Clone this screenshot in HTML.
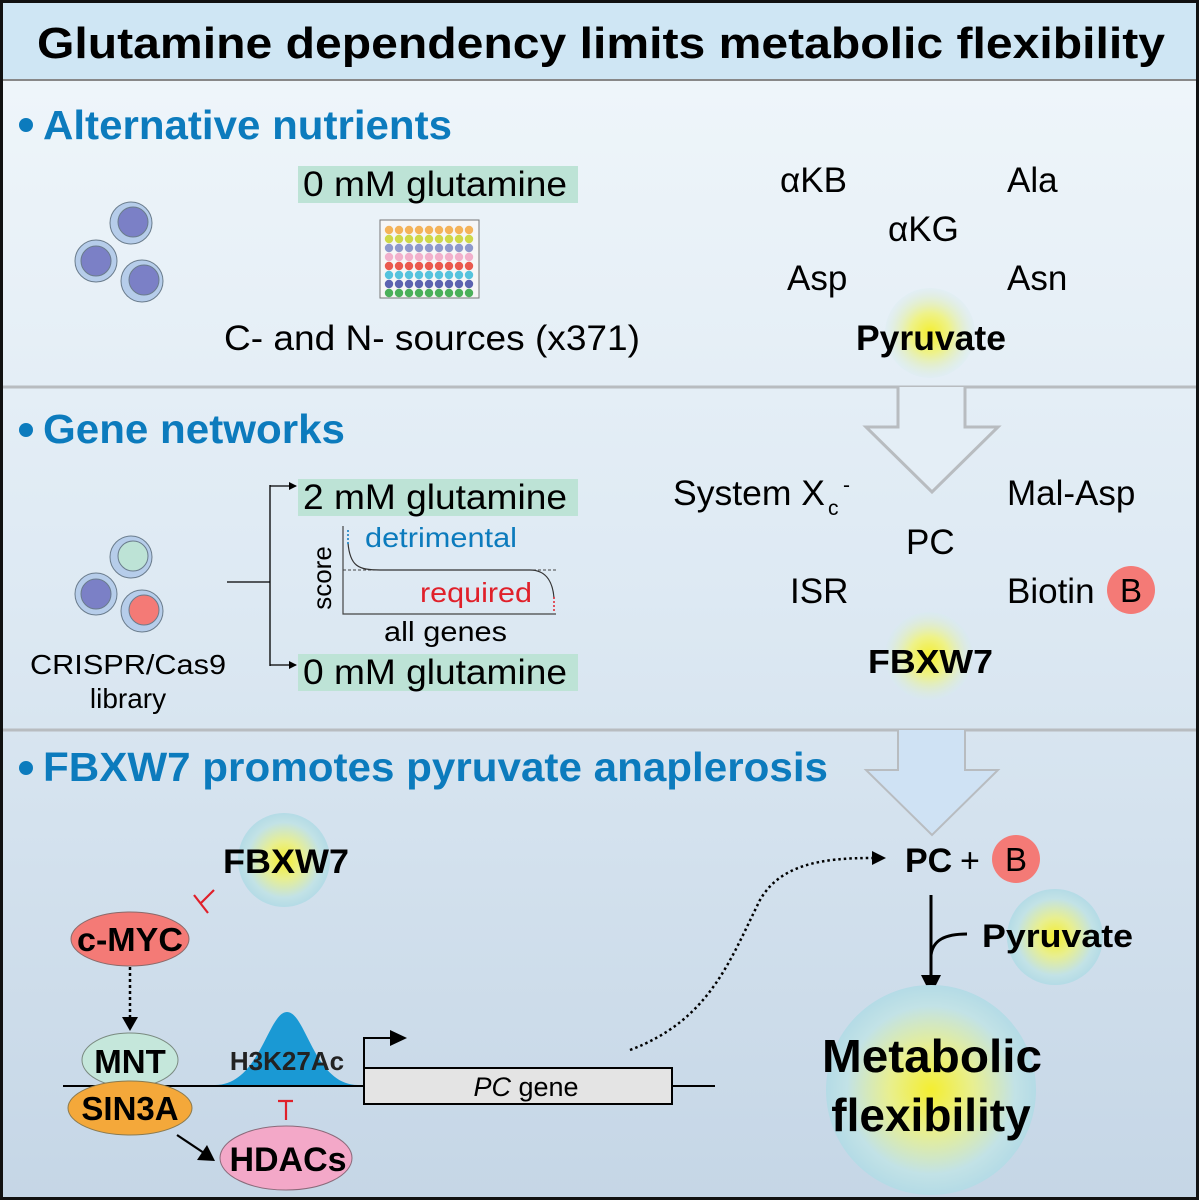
<!DOCTYPE html>
<html><head><meta charset="utf-8"><style>
html,body{margin:0;padding:0;background:#fff}
svg{display:block}
text{font-family:"Liberation Sans",Arial,sans-serif}
</style></head><body>
<svg width="1199" height="1200" viewBox="0 0 1199 1200" xmlns="http://www.w3.org/2000/svg">
<defs>
<linearGradient id="bg" x1="0" y1="0" x2="0" y2="1">
<stop offset="0" stop-color="#f1f7fb"/><stop offset="0.5" stop-color="#dde9f3"/><stop offset="1" stop-color="#c5d6e6"/>
</linearGradient>
<radialGradient id="glow"><stop offset="0" stop-color="#f4ee30"/><stop offset="0.4" stop-color="#e8ef90"/><stop offset="0.8" stop-color="#c2e2e6"/><stop offset="1" stop-color="#b4dbe6"/></radialGradient>
<radialGradient id="glow2"><stop offset="0" stop-color="#f4ee30"/><stop offset="0.45" stop-color="#eef28a"/><stop offset="1" stop-color="#d6ebee" stop-opacity="0.3"/></radialGradient>
<marker id="ah" markerWidth="8" markerHeight="8" refX="7" refY="4" orient="auto" markerUnits="userSpaceOnUse"><path d="M0,0 L8,4 L0,8z" fill="#000"/></marker>
<g id="row"><circle cx="389" cy="0" r="4.2"/><circle cx="399" cy="0" r="4.2"/><circle cx="409" cy="0" r="4.2"/><circle cx="419" cy="0" r="4.2"/><circle cx="429" cy="0" r="4.2"/><circle cx="439" cy="0" r="4.2"/><circle cx="449" cy="0" r="4.2"/><circle cx="459" cy="0" r="4.2"/><circle cx="469" cy="0" r="4.2"/></g>
</defs>
<rect x="0" y="0" width="1199" height="1200" fill="url(#bg)"/>
<rect x="0" y="0" width="1199" height="80" fill="#cfe6f4"/>
<line x1="0" y1="80" x2="1199" y2="80" stroke="#888" stroke-width="2"/>
<text x="37" y="58" font-size="44" font-weight="bold" textLength="1128" lengthAdjust="spacingAndGlyphs">Glutamine dependency limits metabolic flexibility</text>
<line x1="0" y1="387" x2="1199" y2="387" stroke="#b8bcc0" stroke-width="3"/>
<line x1="0" y1="730" x2="1199" y2="730" stroke="#b8bcc0" stroke-width="3"/>

<!-- section 1 -->
<circle cx="26" cy="125" r="7" fill="#0c7bbd"/>
<text x="43" y="139" font-size="41" font-weight="bold" fill="#0c7bbd" textLength="409" lengthAdjust="spacingAndGlyphs">Alternative nutrients</text>
<rect x="298" y="166" width="280" height="37" fill="#bde3d6"/>
<text x="303" y="196" font-size="35" textLength="264" lengthAdjust="spacingAndGlyphs">0 mM glutamine</text>
<g stroke="#6a7c8c" stroke-width="1">
<circle cx="131" cy="223" r="21" fill="#b6cdea"/><circle cx="133" cy="222" r="15" fill="#7b80c6"/>
<circle cx="96" cy="261" r="21" fill="#b6cdea"/><circle cx="96" cy="261" r="15" fill="#7b80c6"/>
<circle cx="142" cy="281" r="21" fill="#b6cdea"/><circle cx="144" cy="280" r="15" fill="#7b80c6"/>
</g>
<rect x="380" y="220" width="99" height="78" fill="#f6f6f6" stroke="#777"/>
<use href="#row" y="230" fill="#f4b35a"/>
<use href="#row" y="239" fill="#cfd848"/>
<use href="#row" y="248" fill="#8e99cc"/>
<use href="#row" y="257" fill="#f2b0cc"/>
<use href="#row" y="266" fill="#ea5a4e"/>
<use href="#row" y="275" fill="#55c3dd"/>
<use href="#row" y="284" fill="#5c63b0"/>
<use href="#row" y="293" fill="#4bb05a"/>
<text x="224" y="350" font-size="35" textLength="416" lengthAdjust="spacingAndGlyphs">C- and N- sources (x371)</text>

<g font-size="35">
<text x="780" y="192">αKB</text><text x="1007" y="192">Ala</text>
<text x="888" y="241">αKG</text>
<text x="787" y="290">Asp</text><text x="1007" y="290">Asn</text>
</g>
<circle cx="930" cy="333" r="45" fill="url(#glow2)"/>
<text x="856" y="350" font-size="35" font-weight="bold" textLength="150" lengthAdjust="spacingAndGlyphs">Pyruvate</text>

<!-- arrow 1 -->
<path d="M898,387 L898,427 L866,427 L932,492 L998,427 L965,427 L965,387" fill="#e4eef6" stroke="#b8bcc0" stroke-width="3"/>

<!-- section 2 -->
<circle cx="26" cy="430" r="7" fill="#0c7bbd"/>
<text x="43" y="443" font-size="41" font-weight="bold" fill="#0c7bbd" textLength="302" lengthAdjust="spacingAndGlyphs">Gene networks</text>
<g stroke="#6a7c8c" stroke-width="1">
<circle cx="131" cy="557" r="21" fill="#b6cdea"/><circle cx="133" cy="556" r="15" fill="#bde3d6"/>
<circle cx="96" cy="594" r="21" fill="#b6cdea"/><circle cx="96" cy="594" r="15" fill="#7b80c6"/>
<circle cx="142" cy="611" r="21" fill="#b6cdea"/><circle cx="144" cy="610" r="15" fill="#f47a76"/>
</g>
<text x="30" y="674" font-size="28" textLength="196" lengthAdjust="spacingAndGlyphs">CRISPR/Cas9</text>
<text x="128" y="708" font-size="28" text-anchor="middle">library</text>
<path d="M227,582 L270,582 M270,485 L270,666" stroke="#000" stroke-width="1.3" fill="none"/>
<path d="M270,486 L296,486" stroke="#000" stroke-width="1.3" marker-end="url(#ah)"/>
<path d="M270,665 L296,665" stroke="#000" stroke-width="1.3" marker-end="url(#ah)"/>
<rect x="298" y="479" width="280" height="37" fill="#bde3d6"/>
<text x="303" y="509" font-size="35" textLength="264" lengthAdjust="spacingAndGlyphs">2 mM glutamine</text>
<rect x="298" y="654" width="280" height="37" fill="#bde3d6"/>
<text x="303" y="684" font-size="35" textLength="264" lengthAdjust="spacingAndGlyphs">0 mM glutamine</text>
<path d="M343,526 L343,614 L556,614" stroke="#444" stroke-width="1.2" fill="none"/>
<path d="M343,570 L556,570" stroke="#444" stroke-width="1" stroke-dasharray="3,2" fill="none"/>
<path d="M348,543 C350,566 358,570 380,570 L530,570 C548,570 553,585 554,598" stroke="#333" stroke-width="1.2" fill="none"/>
<path d="M348,530 L348,545" stroke="#0c7bbd" stroke-width="1.5" stroke-dasharray="2,2"/>
<path d="M554,597 L554,612" stroke="#e0202a" stroke-width="1.5" stroke-dasharray="2,2"/>
<text x="331" y="578" font-size="26" text-anchor="middle" transform="rotate(-90 331 578)" dy="0">score</text>
<text x="365" y="547" font-size="28" fill="#0c7bbd" textLength="152" lengthAdjust="spacingAndGlyphs">detrimental</text>
<text x="420" y="602" font-size="28" fill="#e0202a" textLength="112" lengthAdjust="spacingAndGlyphs">required</text>
<text x="384" y="641" font-size="28" textLength="123" lengthAdjust="spacingAndGlyphs">all genes</text>

<g font-size="35">
<text x="673" y="505" textLength="152" lengthAdjust="spacingAndGlyphs">System X</text><text x="828" y="515" font-size="21">c</text><text x="843" y="492" font-size="21">-</text>
<text x="1007" y="505">Mal-Asp</text>
<text x="906" y="554">PC</text>
<text x="790" y="603">ISR</text><text x="1007" y="603">Biotin</text>
</g>
<circle cx="1131" cy="590" r="24" fill="#f47a76"/>
<text x="1131" y="602" font-size="33" text-anchor="middle">B</text>
<circle cx="929" cy="656" r="44" fill="url(#glow2)"/>
<text x="868" y="673" font-size="33" font-weight="bold" textLength="125" lengthAdjust="spacingAndGlyphs">FBXW7</text>

<!-- arrow 2 -->
<path d="M898,730 L898,770 L866,770 L932,835 L998,770 L965,770 L965,730" fill="#cfe2f4" stroke="#b8bcc0" stroke-width="2"/>

<!-- section 3 -->
<circle cx="26" cy="768" r="7" fill="#0c7bbd"/>
<text x="43" y="781" font-size="41" font-weight="bold" fill="#0c7bbd" textLength="785" lengthAdjust="spacingAndGlyphs">FBXW7 promotes pyruvate anaplerosis</text>
<ellipse cx="284" cy="860" rx="46" ry="47" fill="url(#glow)"/>
<text x="223" y="873" font-size="34" font-weight="bold" textLength="126" lengthAdjust="spacingAndGlyphs">FBXW7</text>
<path d="M214,890 L200,904 M194,895 L208,913" stroke="#e0202a" stroke-width="2.2"/>
<ellipse cx="130" cy="939" rx="59" ry="27" fill="#f47a76" stroke="#8a6a6a"/>
<text x="130" y="951" font-size="33" font-weight="bold" text-anchor="middle" textLength="106" lengthAdjust="spacingAndGlyphs">c-MYC</text>
<path d="M130,967 L130,1025" stroke="#000" stroke-width="2.5" stroke-dasharray="3,3"/>
<path d="M122,1017 L138,1017 L130,1031z" fill="#000"/>
<path d="M63,1086 L715,1086" stroke="#000" stroke-width="2"/>
<path d="M215,1085 C260,1085 268,1012 287,1012 C306,1012 314,1085 358,1085z" fill="#1a99d4"/>
<text x="287" y="1070" font-size="26" font-weight="bold" text-anchor="middle" fill="#222">H3K27Ac</text>
<ellipse cx="130" cy="1060" rx="48" ry="27" fill="#c5e7db" stroke="#7a8a80"/>
<text x="130" y="1073" font-size="33" font-weight="bold" text-anchor="middle">MNT</text>
<ellipse cx="130" cy="1108" rx="62" ry="27" fill="#f4a83a" stroke="#8a7a50"/>
<text x="130" y="1120" font-size="33" font-weight="bold" text-anchor="middle">SIN3A</text>
<path d="M177,1135 L204,1153" stroke="#000" stroke-width="2.2"/>
<path d="M197,1160 L215,1161 L207,1145z" fill="#000"/>
<path d="M278,1101 L293,1101 M286,1101 L286,1120" stroke="#e0202a" stroke-width="2.2"/>
<ellipse cx="286" cy="1158" rx="66" ry="32" fill="#f3a8c8" stroke="#8a6a7a"/>
<text x="288" y="1171" font-size="34" font-weight="bold" text-anchor="middle">HDACs</text>
<rect x="364" y="1068" width="308" height="36" fill="#e4e4e4" stroke="#000" stroke-width="2"/>
<text x="526" y="1096" font-size="27" text-anchor="middle"><tspan font-style="italic">PC</tspan> gene</text>
<path d="M364,1068 L364,1038 L392,1038" stroke="#000" stroke-width="2" fill="none"/>
<path d="M390,1030 L407,1038 L390,1046z" fill="#000"/>
<path d="M630,1050 C710,1020 730,960 760,900 C780,865 820,858 872,858" stroke="#000" stroke-width="2.5" stroke-dasharray="2.5,3" fill="none"/>
<path d="M872,851 L886,858 L872,865z" fill="#000"/>

<text x="905" y="872" font-size="34" font-weight="bold">PC</text>
<text x="960" y="872" font-size="34">+</text>
<circle cx="1016" cy="859" r="24" fill="#f47a76"/>
<text x="1016" y="871" font-size="33" text-anchor="middle">B</text>
<path d="M931,895 L931,980" stroke="#000" stroke-width="3"/>
<path d="M921,975 L941,975 L931,995z" fill="#000"/>
<path d="M967,934 C945,934 933,940 931,955" stroke="#000" stroke-width="3" fill="none"/>
<circle cx="1055" cy="937" r="48" fill="url(#glow)"/>
<text x="982" y="947" font-size="32" font-weight="bold" textLength="151" lengthAdjust="spacingAndGlyphs">Pyruvate</text>
<circle cx="931" cy="1090" r="105" fill="url(#glow)"/>
<text x="822" y="1072" font-size="46" font-weight="bold" textLength="220" lengthAdjust="spacingAndGlyphs">Metabolic</text>
<text x="931" y="1131" font-size="46" font-weight="bold" text-anchor="middle">flexibility</text>

<rect x="1.5" y="1.5" width="1196" height="1197" fill="none" stroke="#111" stroke-width="3"/>
</svg>
</body></html>
